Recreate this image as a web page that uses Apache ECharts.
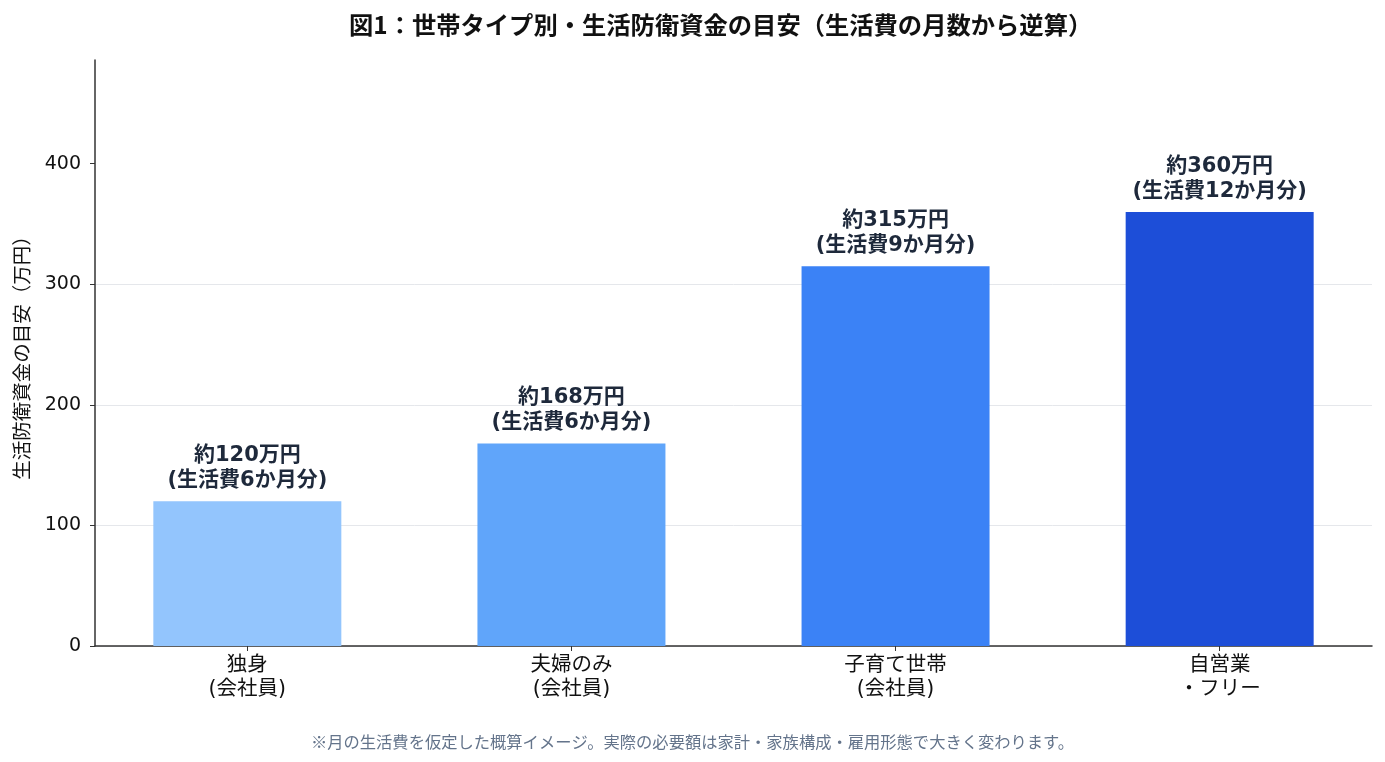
<!DOCTYPE html>
<html lang="ja">
<head>
    <meta charset="UTF-8">
    <title>世帯タイプ別・生活防衛資金の目安</title>
    <script src="https://cdn.jsdelivr.net/npm/echarts@6/dist/echarts.min.js"></script>
    <style>
        html, body { margin: 0; padding: 0; background: #fff; }
        #chart { width: 1385px; height: 762px; }
    </style>
</head>
<body>
<div id="chart"></div>
<script>
    // 世帯タイプ
    var categories = ['独身\n(会社員)', '夫婦のみ\n(会社員)', '子育て世帯\n(会社員)', '自営業\n・フリー'];
    // 生活防衛資金の目安（万円）
    var amounts = [120, 168, 315, 360];
    // 生活費の月数
    var months = [6, 6, 9, 12];
    var barColors = ['#93c5fd', '#60a5fa', '#3b82f6', '#1d4ed8'];
    var yTicks = [0, 100, 200, 300, 400];
    var xTicks = [0, 1, 2, 3];

    var cjk = '"Noto Sans CJK JP", sans-serif';
    var mixed = '"DejaVu Sans", "Noto Sans CJK JP", sans-serif';

    var chart = echarts.init(document.getElementById('chart'));
    chart.setOption({
        textStyle: { fontFamily: mixed },
        title: [{
            text: '図1：世帯タイプ別・生活防衛資金の目安（生活費の月数から逆算）',
            left: 344,
            top: 8,
            textStyle: { fontSize: 24.3, fontWeight: 'bold', color: '#111', fontFamily: cjk }
        }, {
            text: '※月の生活費を仮定した概算イメージ。実際の必要額は家計・家族構成・雇用形態で大きく変わります。',
            left: 'center',
            top: 729,
            textStyle: { fontSize: 16.3, fontWeight: 'normal', color: '#64748b', fontFamily: cjk }
        }],
        grid: { left: 95, right: 13, top: 60, bottom: 116, containLabel: false },
        // 棒の位置は数値軸で（左右に余白を残す）
        xAxis: {
            type: 'value',
            min: -0.47,
            max: 3.47,
            splitLine: { show: false },
            axisLine: { onZero: false, lineStyle: { color: '#333', width: 1.5 } },
            axisTick: { show: true, length: 5, lineStyle: { color: '#333' }, customValues: xTicks },
            axisLabel: {
                fontSize: 20.5, color: '#111', lineHeight: 24, margin: 8,
                fontFamily: mixed,
                customValues: xTicks,
                formatter: function (v) { return categories[Math.round(v)]; }
            }
        },
        yAxis: {
            type: 'value',
            min: 0,
            max: 486,
            interval: 100,
            name: '生活防衛資金の目安（万円）',
            nameLocation: 'middle',
            nameGap: 64,
            nameTextStyle: { fontSize: 19.5, color: '#111', fontFamily: cjk },
            axisLine: { show: true, onZero: false, lineStyle: { color: '#333', width: 1.5 } },
            axisTick: { show: true, length: 5, lineStyle: { color: '#333' }, customValues: yTicks },
            axisLabel: { fontSize: 19, color: '#111', margin: 14, customValues: yTicks },
            splitLine: { show: true, showMaxLine: false, lineStyle: { color: '#e5e7eb', width: 1 } }
        },
        series: [{
            type: 'bar',
            barWidth: 188,
            data: amounts.map(function (v, i) {
                return { value: [i, v], itemStyle: { color: barColors[i] } };
            }),
            label: {
                show: true,
                position: 'top',
                distance: 8,
                fontSize: 21,
                fontWeight: 'bold',
                color: '#1e293b',
                lineHeight: 25,
                formatter: function (p) {
                    return '約' + p.value[1] + '万円\n(生活費' + months[p.dataIndex] + 'か月分)';
                }
            }
        }]
    });
</script>
</body>
</html>
